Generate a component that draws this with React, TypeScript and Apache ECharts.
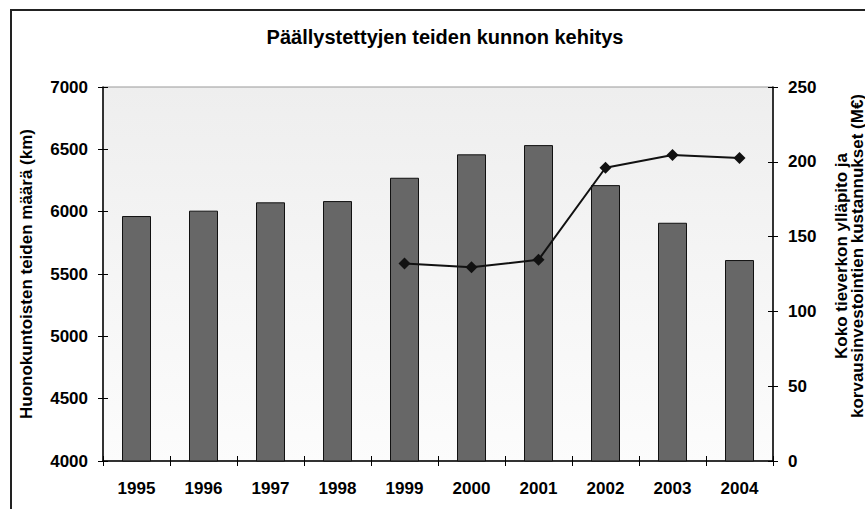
import { useEffect, useRef } from "react";
import * as echarts from "echarts";

const title = "Päällystettyjen teiden kunnon kehitys";
const years = ["1995", "1996", "1997", "1998", "1999", "2000", "2001", "2002", "2003", "2004"];
const poorRoadsKm = [5965, 6008, 6075, 6085, 6272, 6460, 6534, 6213, 5911, 5612];
const costsMEur: (number | null)[] = [null, null, null, null, 132, 129.5, 134.5, 196, 204.5, 202.5];
const leftTicks = [4000, 4500, 5000, 5500, 6000, 6500, 7000];
const rightTicks = [0, 50, 100, 150, 200, 250];
const leftAxisName = "Huonokuntoisten teiden määrä (km)";
const rightAxisName = "Koko tieverkon ylläpito ja\nkorvausinvestointien kustannukset (M€)";

const FONT = "'Liberation Sans', Arial, sans-serif";

export default function App() {
  const ref = useRef<HTMLDivElement>(null);
  useEffect(() => {
    if (!ref.current) return;
    const chart = echarts.init(ref.current, undefined, { renderer: "svg" });
    const lMin = leftTicks[0];
    const lMax = leftTicks[leftTicks.length - 1];
    const lInt = leftTicks[1] - leftTicks[0];
    const rMin = rightTicks[0];
    const rMax = rightTicks[rightTicks.length - 1];
    const rInt = rightTicks[1] - rightTicks[0];
    const labelStyle = { color: "#000", fontFamily: FONT, fontWeight: "bold" as const, fontSize: 17 };
    const plain = (v: number) => String(v);
    chart.setOption({
      animation: false,
      backgroundColor: "#fff",
      grid: {
        left: 103,
        right: 92,
        top: 87,
        bottom: 48,
        show: true,
        borderColor: "#999",
        borderWidth: 1,
        backgroundColor: new echarts.graphic.LinearGradient(0, 0, 0, 1, [
          { offset: 0, color: "#eeeeee" },
          { offset: 1, color: "#fcfcfc" },
        ]),
      },
      graphic: [
        {
          type: "rect",
          shape: { x: 11, y: 10, width: 900, height: 560 },
          style: { fill: "none", stroke: "#222", lineWidth: 2 },
          silent: true,
        },
        {
          type: "text",
          x: 445,
          y: 37,
          style: {
            text: title,
            fill: "#000",
            font: `bold 20px ${FONT}`,
            textAlign: "center",
            textVerticalAlign: "middle",
          },
        },
        {
          type: "text",
          x: 849,
          y: 256,
          rotation: Math.PI / 2,
          style: {
            text: rightAxisName,
            fill: "#000",
            font: `bold 17px ${FONT}`,
            lineHeight: 16,
            textAlign: "center",
            textVerticalAlign: "middle",
          },
        },
      ],
      xAxis: [
        {
          type: "category",
          data: years,
          position: "bottom",
          axisLine: { show: true, lineStyle: { color: "#000", width: 1.5 } },
          axisTick: { show: true, interval: 0, length: 5, lineStyle: { color: "#000" } },
          axisLabel: { ...labelStyle, margin: 19, interval: 0 },
          splitLine: { show: false },
        },
        {
          type: "category",
          data: years,
          position: "bottom",
          axisLine: { show: false },
          axisTick: { show: true, inside: true, interval: 0, length: 5, lineStyle: { color: "#000" } },
          axisLabel: { show: false },
          splitLine: { show: false },
        },
      ],
      yAxis: [
        {
          type: "value",
          position: "left",
          min: lMin,
          max: lMax,
          interval: lInt,
          name: leftAxisName,
          nameLocation: "middle",
          nameRotate: 90,
          nameGap: 68,
          nameTextStyle: { ...labelStyle },
          axisLine: { show: true, lineStyle: { color: "#000", width: 1.5 } },
          axisTick: { show: true, length: 5, lineStyle: { color: "#000" } },
          axisLabel: { ...labelStyle, margin: 15, formatter: plain },
          splitLine: { show: false },
        },
        {
          type: "value",
          position: "right",
          min: rMin,
          max: rMax,
          interval: rInt,
          axisLine: { show: true, lineStyle: { color: "#000", width: 1.5 } },
          axisTick: { show: true, length: 5, lineStyle: { color: "#000" } },
          axisLabel: { ...labelStyle, margin: 15, formatter: plain },
          splitLine: { show: false },
        },
        {
          type: "value",
          position: "left",
          min: lMin,
          max: lMax,
          interval: lInt,
          axisLine: { show: false },
          axisTick: { show: true, inside: true, length: 5, lineStyle: { color: "#000" } },
          axisLabel: { show: false },
          splitLine: { show: false },
        },
        {
          type: "value",
          position: "right",
          min: rMin,
          max: rMax,
          interval: rInt,
          axisLine: { show: false },
          axisTick: { show: true, inside: true, length: 5, lineStyle: { color: "#000" } },
          axisLabel: { show: false },
          splitLine: { show: false },
        },
      ],
      series: [
        {
          type: "bar",
          name: leftAxisName,
          xAxisIndex: 0,
          yAxisIndex: 0,
          data: poorRoadsKm,
          barWidth: 29,
          itemStyle: { color: "#676767", borderColor: "#111", borderWidth: 1 },
        },
        {
          type: "line",
          name: "Kustannukset",
          xAxisIndex: 0,
          yAxisIndex: 1,
          data: costsMEur,
          symbol: "diamond",
          symbolSize: 12,
          lineStyle: { color: "#111", width: 2 },
          itemStyle: { color: "#111" },
          z: 5,
        },
      ],
    });
    return () => chart.dispose();
  }, []);
  return (
    <div
      ref={ref}
      style={{ position: "fixed", left: 0, top: 0, width: 865, height: 509, background: "#fff" }}
    />
  );
}
